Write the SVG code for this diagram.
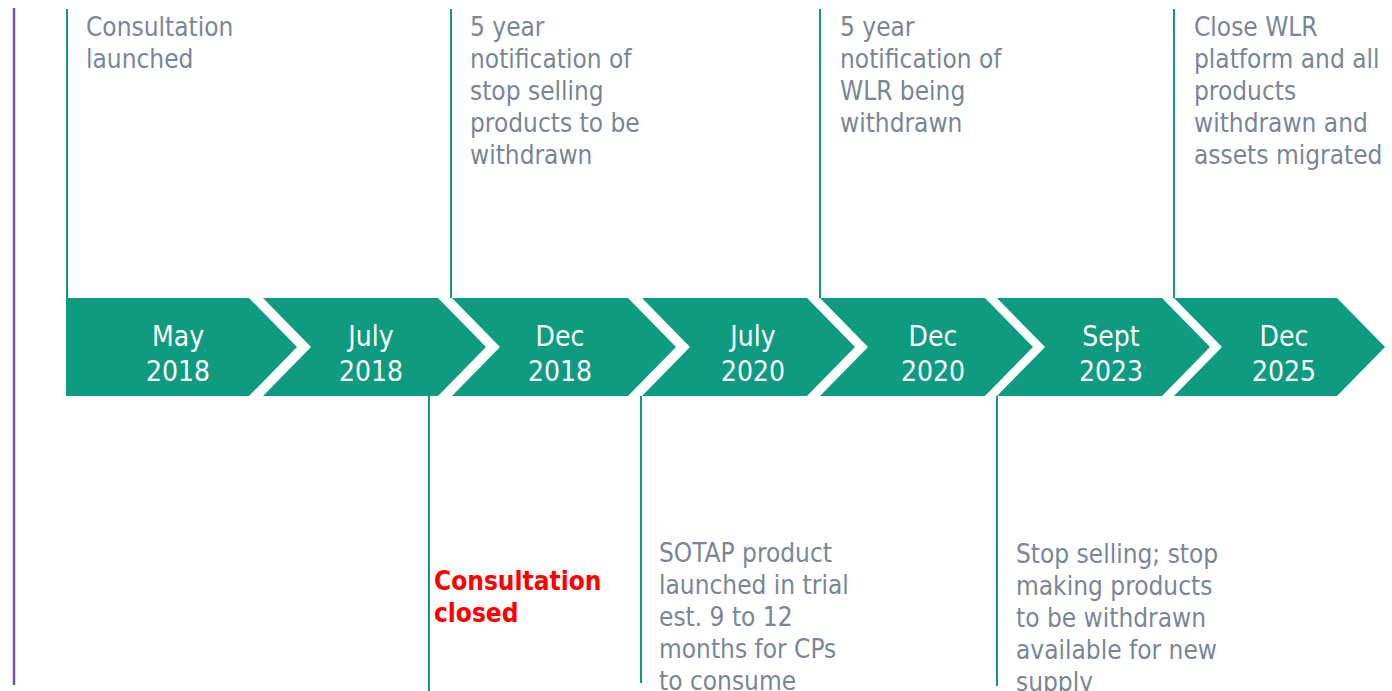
<svg xmlns="http://www.w3.org/2000/svg" width="1392" height="691" viewBox="0 0 1392 691">
<style>
.chev{fill:#0e9b80}
.lbl{font-family:"DejaVu Sans Condensed","DejaVu Sans",sans-serif;font-stretch:condensed;font-size:28px;fill:#ffffff;text-anchor:middle}
.note{font-family:"DejaVu Sans Condensed","DejaVu Sans",sans-serif;font-stretch:condensed;font-size:26px;fill:#7a8694}
.red{font-family:"DejaVu Sans Condensed","DejaVu Sans",sans-serif;font-stretch:condensed;font-size:26px;font-weight:bold;fill:#ff0000}
.conn{stroke:#0e9b80;stroke-width:2;fill:none}
</style>
<rect width="1392" height="691" fill="#ffffff"/>
<line x1="14" y1="8" x2="14" y2="685" stroke="#6f56a8" stroke-width="2.5"/>
<g id="connectors">
<line class="conn" x1="67" y1="9" x2="67" y2="298"/>
<line class="conn" x1="451" y1="9" x2="451" y2="298"/>
<line class="conn" x1="820" y1="9" x2="820" y2="298"/>
<line class="conn" x1="1174" y1="9" x2="1174" y2="298"/>
<line class="conn" x1="429" y1="396" x2="429" y2="691"/>
<line class="conn" x1="641" y1="396" x2="641" y2="683"/>
<line class="conn" x1="997" y1="396" x2="997" y2="686"/>
</g>
<g id="may2018">
<path class="chev" d="M66,298 L249,298 L297,347 L249,396 L66,396 Z"/>
<text class="lbl" x="178" y="346">May</text>
<text class="lbl" x="178" y="381">2018</text>
</g>
<g id="july2018">
<path class="chev" d="M263,298 L438,298 L486,347 L438,396 L263,396 L311,347 Z"/>
<text class="lbl" x="371" y="346">July</text>
<text class="lbl" x="371" y="381">2018</text>
</g>
<g id="dec2018">
<path class="chev" d="M452,298 L628,298 L676,347 L628,396 L452,396 L500,347 Z"/>
<text class="lbl" x="560" y="346">Dec</text>
<text class="lbl" x="560" y="381">2018</text>
</g>
<g id="july2020">
<path class="chev" d="M642,298 L807,298 L855,347 L807,396 L642,396 L690,347 Z"/>
<text class="lbl" x="753" y="346">July</text>
<text class="lbl" x="753" y="381">2020</text>
</g>
<g id="dec2020">
<path class="chev" d="M820,298 L985,298 L1033,347 L985,396 L820,396 L868,347 Z"/>
<text class="lbl" x="933" y="346">Dec</text>
<text class="lbl" x="933" y="381">2020</text>
</g>
<g id="sept2023">
<path class="chev" d="M997,298 L1162,298 L1210,347 L1162,396 L997,396 L1045,347 Z"/>
<text class="lbl" x="1111" y="346">Sept</text>
<text class="lbl" x="1111" y="381">2023</text>
</g>
<g id="dec2025">
<path class="chev" d="M1174,298 L1337,298 L1385,347 L1337,396 L1174,396 L1222,347 Z"/>
<text class="lbl" x="1284" y="346">Dec</text>
<text class="lbl" x="1284" y="381">2025</text>
</g>
<g id="note-consultation-launched">
<text class="note" x="86" y="36">Consultation</text>
<text class="note" x="86" y="68">launched</text>
</g>
<g id="note-dec2018">
<text class="note" x="470" y="36">5 year</text>
<text class="note" x="470" y="68">notification of</text>
<text class="note" x="470" y="100">stop selling</text>
<text class="note" x="470" y="132">products to be</text>
<text class="note" x="470" y="164">withdrawn</text>
</g>
<g id="note-dec2020">
<text class="note" x="840" y="36">5 year</text>
<text class="note" x="840" y="68">notification of</text>
<text class="note" x="840" y="100">WLR being</text>
<text class="note" x="840" y="132">withdrawn</text>
</g>
<g id="note-dec2025">
<text class="note" x="1194" y="36">Close WLR</text>
<text class="note" x="1194" y="68">platform and all</text>
<text class="note" x="1194" y="100">products</text>
<text class="note" x="1194" y="132">withdrawn and</text>
<text class="note" x="1194" y="164">assets migrated</text>
</g>
<g id="note-consultation-closed">
<text class="red" x="434" y="590">Consultation</text>
<text class="red" x="434" y="622">closed</text>
</g>
<g id="note-july2020">
<text class="note" x="659" y="562">SOTAP product</text>
<text class="note" x="659" y="594">launched in trial</text>
<text class="note" x="659" y="626">est. 9 to 12</text>
<text class="note" x="659" y="658">months for CPs</text>
<text class="note" x="659" y="690">to consume</text>
</g>
<g id="note-sept2023">
<text class="note" x="1016" y="563">Stop selling; stop</text>
<text class="note" x="1016" y="595">making products</text>
<text class="note" x="1016" y="627">to be withdrawn</text>
<text class="note" x="1016" y="659">available for new</text>
<text class="note" x="1016" y="691">supply</text>
</g>
</svg>
